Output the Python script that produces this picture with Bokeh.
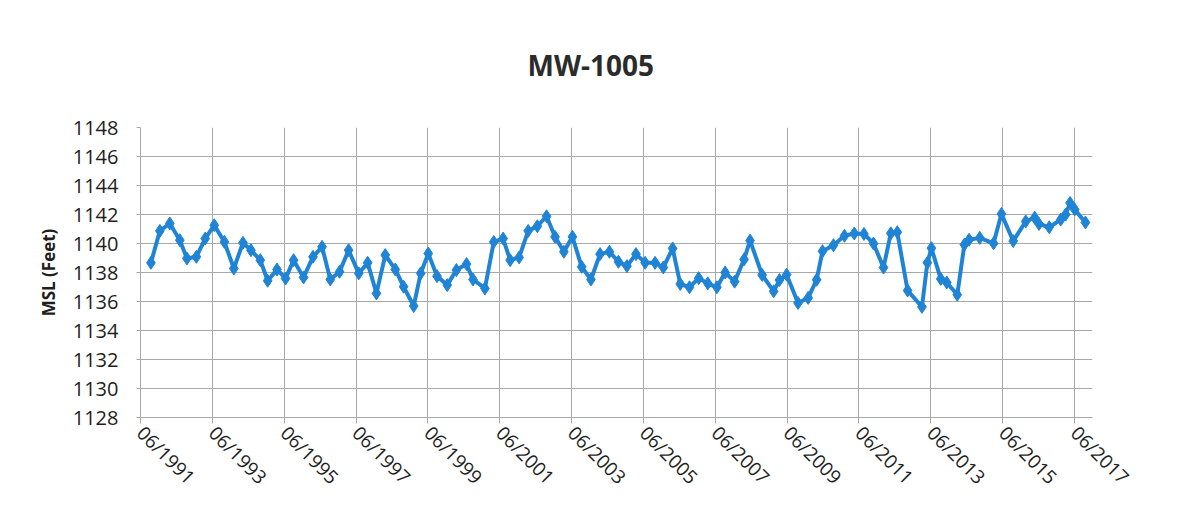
import math
import pandas as pd
from bokeh.plotting import figure
from bokeh.models import (FixedTicker, DatetimeTickFormatter, Title,
                          Range1d, ColumnDataSource)
from bokeh.embed import file_html
from bokeh.resources import INLINE

title_text = "MW-1005"
y_label = "MSL (Feet)"

dates = [
    "1991-09-15", "1991-12-15",
    "1992-03-25", "1992-07-05", "1992-09-15", "1992-12-20",
    "1993-03-20", "1993-06-20", "1993-10-01",
    "1994-01-05", "1994-04-08", "1994-06-28", "1994-10-01", "1994-12-15",
    "1995-03-20", "1995-06-15", "1995-09-05", "1995-12-15",
    "1996-03-20", "1996-06-20", "1996-09-12", "1996-12-15",
    "1997-03-17", "1997-06-28", "1997-09-27", "1997-12-25",
    "1998-03-25", "1998-07-05", "1998-09-27",
    "1999-01-08", "1999-03-20", "1999-06-05", "1999-09-02", "1999-12-15",
    "2000-03-17", "2000-06-28", "2000-09-02",
    "2001-01-01", "2001-04-01", "2001-07-05", "2001-09-15", "2001-12-15",
    "2002-03-17", "2002-06-18", "2002-09-20", "2002-12-15",
    "2003-03-15", "2003-06-10", "2003-09-12", "2003-12-15",
    "2004-03-17", "2004-06-20", "2004-09-20", "2004-12-15",
    "2005-03-17", "2005-06-18", "2005-09-27", "2005-12-20",
    "2006-03-25", "2006-06-10", "2006-09-12", "2006-12-15",
    "2007-03-17", "2007-06-18", "2007-09-10", "2007-12-15",
    "2008-03-20", "2008-05-20", "2008-09-20",
    "2009-01-15", "2009-03-15", "2009-05-27", "2009-09-20",
    "2010-01-01", "2010-03-28", "2010-05-27", "2010-09-15",
    "2011-01-05", "2011-04-15", "2011-07-22", "2011-10-27",
    "2012-02-06", "2012-04-20", "2012-06-25", "2012-10-08",
    "2013-03-03", "2013-04-27", "2013-06-07", "2013-09-10", "2013-11-10",
    "2014-02-25", "2014-05-08", "2014-06-25", "2014-10-12",
    "2015-03-01", "2015-05-20", "2015-09-17",
    "2016-01-22", "2016-04-22", "2016-06-05", "2016-09-17",
    "2017-01-12", "2017-03-03", "2017-04-17", "2017-06-03", "2017-09-20",
]

levels = [
    1138.67, 1140.87, 1141.38, 1140.23, 1138.97, 1139.08, 1140.34, 1141.26, 1140.11, 1138.28,
    1140.05, 1139.54, 1138.85, 1137.43, 1138.21, 1137.59, 1138.85, 1137.66, 1139.08, 1139.77,
    1137.52, 1138.05, 1139.54, 1137.94, 1138.67, 1136.56, 1139.20, 1138.21, 1137.02, 1135.69,
    1137.94, 1139.31, 1137.75, 1137.13, 1138.17, 1138.58, 1137.52, 1136.90, 1140.11, 1140.34,
    1138.85, 1139.04, 1140.87, 1141.19, 1141.88, 1140.46, 1139.43, 1140.46, 1138.39, 1137.52,
    1139.27, 1139.43, 1138.74, 1138.44, 1139.27, 1138.67, 1138.67, 1138.35, 1139.66, 1137.21,
    1136.98, 1137.61, 1137.25, 1136.98, 1138.00, 1137.37, 1138.90, 1140.20, 1137.83, 1136.70,
    1137.48, 1137.85, 1135.90, 1136.25, 1137.50, 1139.47, 1139.88, 1140.53, 1140.69, 1140.66,
    1140.00, 1138.34, 1140.70, 1140.78, 1136.76, 1135.63, 1138.67, 1139.68, 1137.56, 1137.31,
    1136.47, 1139.92, 1140.26, 1140.39, 1140.01, 1142.04, 1140.17, 1141.52, 1141.78, 1141.35,
    1141.12, 1141.65, 1142.00, 1142.80, 1142.35, 1141.45,
]

tick_dates = ["1991-06-01", "1993-06-01", "1995-06-01", "1997-06-01", "1999-06-01",
              "2001-06-01", "2003-06-01", "2005-06-01", "2007-06-01", "2009-06-01",
              "2011-06-01", "2013-06-01", "2015-06-01", "2017-06-01"]
y_ticks = [1128, 1130, 1132, 1134, 1136, 1138, 1140, 1142, 1144, 1146, 1148]

x_start = "1991-06-01"
x_end = "2017-12-01"

src = ColumnDataSource(dict(x=pd.to_datetime(dates), y=levels))
tick_ms = [pd.Timestamp(d).value / 1e6 for d in tick_dates]

FONT = "Open Sans"
TXT = "#1e1e1e"
GRID = "#a8a8a8"

p = figure(width=1175, height=501, x_axis_type="datetime",
           output_backend="svg", toolbar_location=None,
           x_range=Range1d(pd.Timestamp(x_start), pd.Timestamp(x_end)),
           y_range=Range1d(y_ticks[0], y_ticks[-1]),
           min_border_left=140, min_border_right=83,
           min_border_top=127, min_border_bottom=83)

p.title = Title(text=title_text, align="left", text_font=FONT,
                text_font_size="28px", text_font_style="bold",
                text_color="#2b2b2b", standoff=87, offset=387)

p.outline_line_color = None
p.background_fill_color = "white"
p.border_fill_color = "white"
p.styles = {"outline": "1px solid #bdbdbd", "outline-offset": "-3px"}

# x axis
p.xaxis.ticker = FixedTicker(ticks=tick_ms)
fmt = "%m/%Y"
p.xaxis.formatter = DatetimeTickFormatter(
    milliseconds=fmt, seconds=fmt, minsec=fmt, minutes=fmt, hourmin=fmt,
    hours=fmt, days=fmt, months=fmt, years=fmt)
p.xaxis.major_label_orientation = -math.pi / 4
p.xaxis.major_label_text_font = FONT
p.xaxis.major_label_text_font_size = "19px"
p.xaxis.major_label_text_color = TXT
p.xaxis.major_label_standoff = 6
p.xaxis.axis_line_color = GRID
p.xaxis.major_tick_line_color = GRID
p.xaxis.major_tick_out = 6
p.xaxis.major_tick_in = 0
p.xaxis.minor_tick_line_color = None

# y axis
p.yaxis.ticker = FixedTicker(ticks=y_ticks)
p.yaxis.major_label_text_font = FONT
p.yaxis.major_label_text_font_size = "20px"
p.yaxis.major_label_text_color = TXT
p.yaxis.major_label_standoff = 18
p.yaxis.axis_line_color = GRID
p.yaxis.major_tick_line_color = GRID
p.yaxis.major_tick_out = 4
p.yaxis.major_tick_in = 0
p.yaxis.minor_tick_line_color = None
p.yaxis.axis_label = y_label
p.yaxis.axis_label_text_font = FONT
p.yaxis.axis_label_text_font_size = "17px"
p.yaxis.axis_label_text_font_style = "bold"
p.yaxis.axis_label_text_color = TXT
p.yaxis.axis_label_standoff = 10

p.xgrid.grid_line_color = GRID
p.ygrid.grid_line_color = GRID
p.xgrid.grid_line_width = 1
p.ygrid.grid_line_width = 1

BLUE = "#1f84d6"
p.line("x", "y", source=src, line_color=BLUE, line_width=4, line_join="round")
p.scatter("x", "y", source=src, marker="diamond", size=13,
          fill_color=BLUE, line_color=BLUE)

open("out.html", "w").write(file_html(p, INLINE))
